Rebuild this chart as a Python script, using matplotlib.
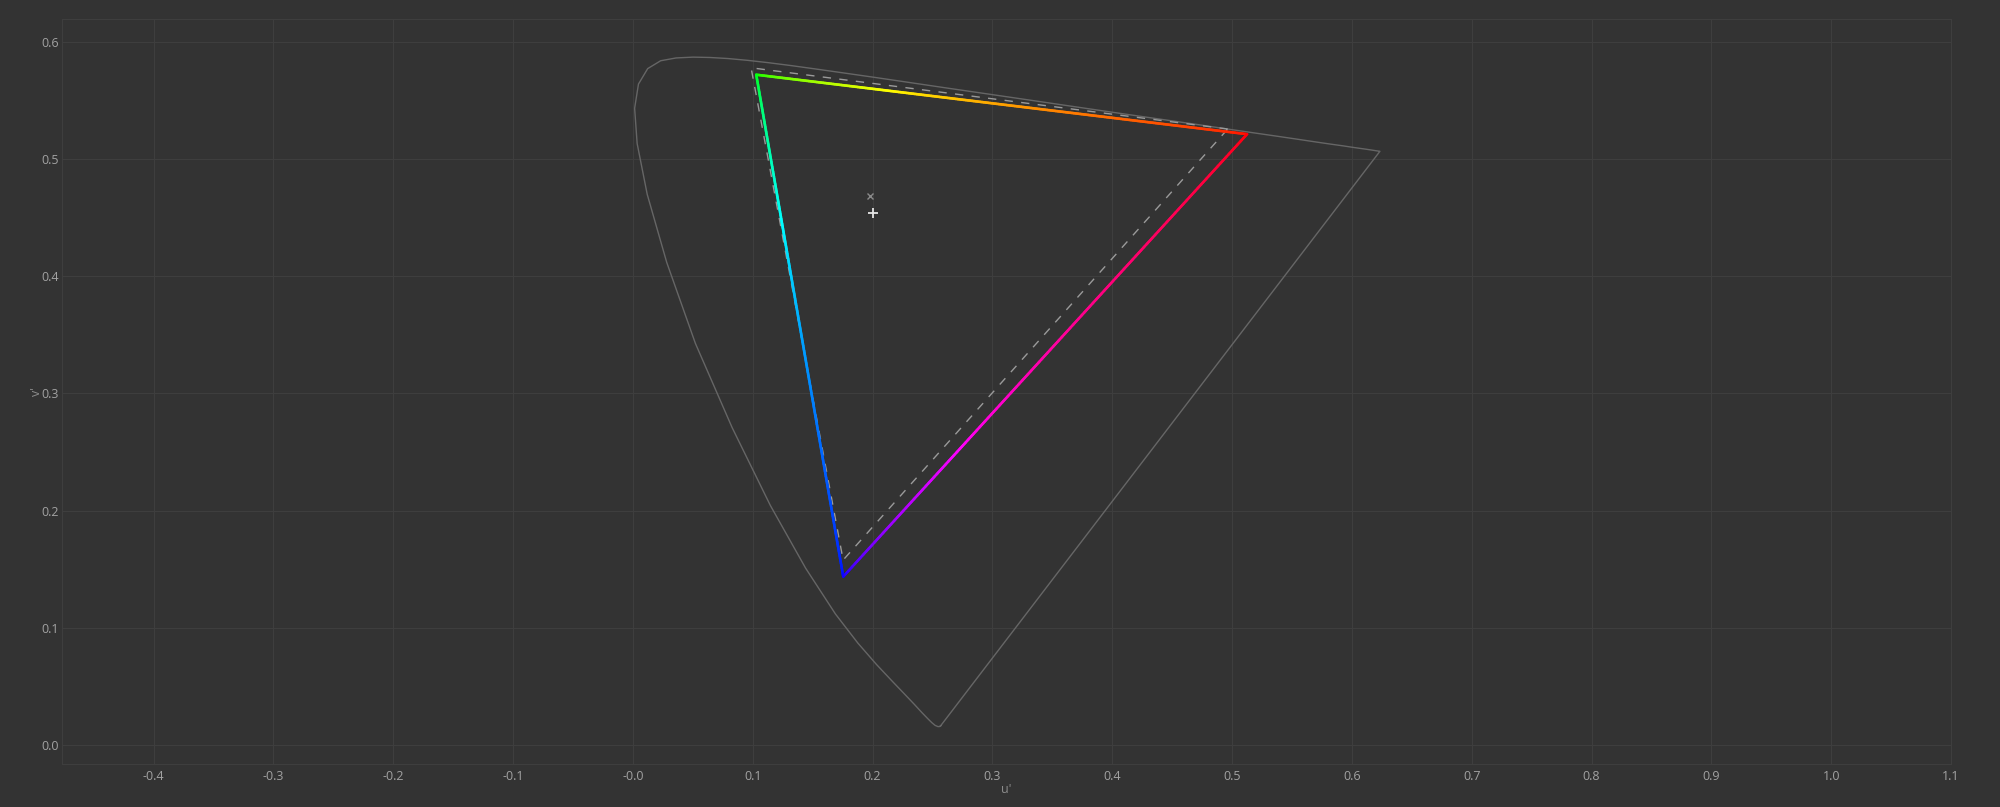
import numpy as np
import matplotlib
matplotlib.use("Agg")
import matplotlib.pyplot as plt
from matplotlib.collections import LineCollection

# CIE 1976 u'v' spectral locus (CIE 1931 2 deg observer), 380..700 nm
locus_u = [0.2568, 0.2557, 0.2545, 0.2522, 0.2496, 0.2461, 0.2411, 0.2347, 0.2266,
           0.2161, 0.2033, 0.1877, 0.1690, 0.1441, 0.1147, 0.0828, 0.0521, 0.0282,
           0.0119, 0.0035, 0.0014, 0.0046, 0.0123, 0.0231, 0.0360, 0.0501, 0.0643,
           0.0792, 0.0953, 0.1127, 0.1319, 0.1531, 0.1766, 0.2026, 0.2312, 0.2623,
           0.2960, 0.3315, 0.3681, 0.4035, 0.4379, 0.4692, 0.4968, 0.5203, 0.5399,
           0.5565, 0.5709, 0.5830, 0.5929, 0.6005, 0.6109, 0.6162, 0.6199, 0.6226,
           0.6234]
locus_v = [0.0166, 0.0159, 0.0159, 0.0169, 0.0191, 0.0226, 0.0279, 0.0350, 0.0437,
           0.0549, 0.0688, 0.0871, 0.1119, 0.1510, 0.2044, 0.2708, 0.3427, 0.4117,
           0.4698, 0.5131, 0.5432, 0.5638, 0.5770, 0.5837, 0.5861, 0.5868, 0.5865,
           0.5856, 0.5841, 0.5821, 0.5796, 0.5766, 0.5732, 0.5694, 0.5651, 0.5604,
           0.5554, 0.5501, 0.5446, 0.5393, 0.5342, 0.5296, 0.5254, 0.5219, 0.5190,
           0.5165, 0.5143, 0.5125, 0.5111, 0.5099, 0.5084, 0.5076, 0.5070, 0.5066,
           0.5065]

# Reference gamut (dashed, DCI-P3), order R, G, B
ref_u = [0.4964, 0.0986, 0.1754]
ref_v = [0.5255, 0.5777, 0.1579]

# Measured gamut (coloured), order R, G, B
gam_u = [0.5125, 0.1029, 0.1755]
gam_v = [0.5211, 0.5718, 0.1438]

# White points
wp_ref = (0.1978, 0.4684)
wp_meas = (0.2001, 0.4542)

x_ticks = [-0.4, -0.3, -0.2, -0.1, 0.0, 0.1, 0.2, 0.3, 0.4, 0.5, 0.6, 0.7, 0.8, 0.9, 1.0, 1.1]
x_labels = ['-0.4', '-0.3', '-0.2', '-0.1', '-0.0', '0.1', '0.2', '0.3', '0.4', '0.5',
            '0.6', '0.7', '0.8', '0.9', '1.0', '1.1']
y_ticks = [0.0, 0.1, 0.2, 0.3, 0.4, 0.5, 0.6]
y_labels = ['0.0', '0.1', '0.2', '0.3', '0.4', '0.5', '0.6']

BG = '#333333'
GRID = '#3e3e3e'
TXT = '#a2a2a2'

plt.rcParams['font.family'] = ['Open Sans', 'DejaVu Sans']

fig = plt.figure(figsize=(20, 8.07), dpi=100, facecolor=BG)
ax = fig.add_axes([0.031, 0.0533, 0.9445, 0.9227], facecolor=BG)

ax.set_xlim(-0.4765, 1.1)
ax.set_ylim(-0.016, 0.619)
ax.set_xticks(x_ticks)
ax.set_xticklabels(x_labels)
ax.set_yticks(y_ticks)
ax.set_yticklabels(y_labels)
ax.tick_params(length=0, labelsize=9, colors=TXT, pad=4)
ax.tick_params(axis='y', pad=2)
ax.grid(True, color=GRID, linewidth=0.8)
ax.set_axisbelow(True)
for s in ax.spines.values():
    s.set_color(GRID)
    s.set_linewidth(0.8)
ax.set_xlabel("u'", color='#8c8c8c', fontsize=9, labelpad=0)
ax.set_ylabel("v'", color='#8c8c8c', fontsize=9, labelpad=-1)

# spectral locus, closed by the line of purples
lu = locus_u + [locus_u[0]]
lv = locus_v + [locus_v[0]]
ax.plot(lu, lv, color='#666666', linewidth=1.0, zorder=2, solid_joinstyle='round')

# reference gamut dashed
ax.plot(ref_u + [ref_u[0]], ref_v + [ref_v[0]], color='#9a9a9a', linewidth=1.0,
        linestyle=(0, (6, 6)), zorder=3)

# coloured gamut with gradient edges (edges R->G, G->B, B->R)
prim_cols = [np.array([1.0, 0, 0]), np.array([0, 1.0, 0]), np.array([0, 0, 1.0])]
edge_weights = [(3.92, 10.78), (10.78, 4.52), (9.8, 3.92)]
segs = []
cols = []
n = 300
for i in range(3):
    j = (i + 1) % 3
    a = np.array([gam_u[i], gam_v[i]])
    b = np.array([gam_u[j], gam_v[j]])
    f = np.linspace(0, 1, n + 1)
    pts = a[None, :] + f[:, None] * (b - a)[None, :]
    fm = 0.5 * (f[:-1] + f[1:])
    wa, wb = edge_weights[i]
    s = fm * wa / (wb * (1 - fm) + fm * wa)
    for k in range(n):
        segs.append([pts[k], pts[k + 1]])
        lin = (1 - s[k]) * prim_cols[i] + s[k] * prim_cols[j]
        enc = lin ** (1 / 2.2)
        enc = enc / enc.max()
        cols.append(enc)
lc = LineCollection(segs, colors=cols, linewidths=1.9, capstyle='round', zorder=4)
ax.add_collection(lc)

ax.plot([wp_ref[0]], [wp_ref[1]], marker='x', color='#8a8a8a', markersize=4.5,
        markeredgewidth=1.0, linestyle='none', zorder=5)
ax.plot([wp_meas[0]], [wp_meas[1]], marker='+', color='#e6e6e6', markersize=6.5,
        markeredgewidth=1.3, linestyle='none', zorder=5)

fig.savefig('out.png', dpi=100, facecolor=BG)
